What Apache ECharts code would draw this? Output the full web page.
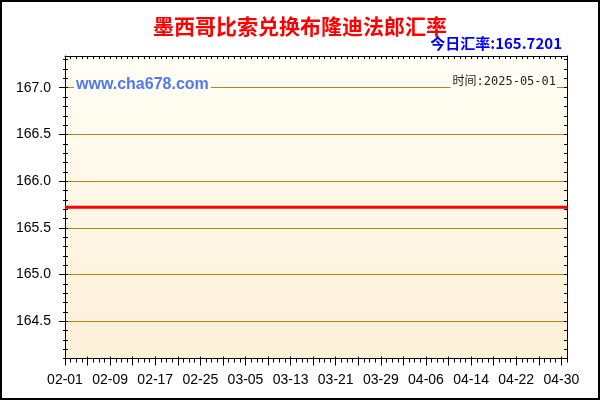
<!DOCTYPE html>
<html>
<head>
<meta charset="utf-8">
<script src="https://cdn.jsdelivr.net/npm/echarts@6/dist/echarts.min.js"></script>
<style>
html,body{margin:0;padding:0;background:#fff;}
#c{width:600px;height:400px;}
</style>
</head>
<body>
<div id="c"></div>
<script>
var titleText = '墨西哥比索兑换布隆迪法郎汇率';
var todayText = '今日汇率:165.7201';
var siteText = 'www.cha678.com';
var timeText = '时间:2025-05-01';

var dates = [
 '02-01','02-02','02-03','02-04','02-05','02-06','02-07','02-08','02-09','02-10',
 '02-11','02-12','02-13','02-14','02-15','02-16','02-17','02-18','02-19','02-20',
 '02-21','02-22','02-23','02-24','02-25','02-26','02-27','02-28',
 '03-01','03-02','03-03','03-04','03-05','03-06','03-07','03-08','03-09','03-10',
 '03-11','03-12','03-13','03-14','03-15','03-16','03-17','03-18','03-19','03-20',
 '03-21','03-22','03-23','03-24','03-25','03-26','03-27','03-28','03-29','03-30','03-31',
 '04-01','04-02','04-03','04-04','04-05','04-06','04-07','04-08','04-09','04-10',
 '04-11','04-12','04-13','04-14','04-15','04-16','04-17','04-18','04-19','04-20',
 '04-21','04-22','04-23','04-24','04-25','04-26','04-27','04-28','04-29','04-30',
 '05-01'
];

var rates = [
 165.7201,165.7201,165.7201,165.7201,165.7201,165.7201,165.7201,165.7201,165.7201,165.7201,
 165.7201,165.7201,165.7201,165.7201,165.7201,165.7201,165.7201,165.7201,165.7201,165.7201,
 165.7201,165.7201,165.7201,165.7201,165.7201,165.7201,165.7201,165.7201,
 165.7201,165.7201,165.7201,165.7201,165.7201,165.7201,165.7201,165.7201,165.7201,165.7201,
 165.7201,165.7201,165.7201,165.7201,165.7201,165.7201,165.7201,165.7201,165.7201,165.7201,
 165.7201,165.7201,165.7201,165.7201,165.7201,165.7201,165.7201,165.7201,165.7201,165.7201,165.7201,
 165.7201,165.7201,165.7201,165.7201,165.7201,165.7201,165.7201,165.7201,165.7201,165.7201,
 165.7201,165.7201,165.7201,165.7201,165.7201,165.7201,165.7201,165.7201,165.7201,165.7201,
 165.7201,165.7201,165.7201,165.7201,165.7201,165.7201,165.7201,165.7201,165.7201,165.7201,
 165.7201
];

var yMin = 164.1;
var yMax = 167.34;
var yMajorTicks = [164.5, 165.0, 165.5, 166.0, 166.5, 167.0];
var yMinorTicks = [164.1,164.2,164.3,164.4,164.5,164.6,164.7,164.8,164.9,165.0,
 165.1,165.2,165.3,165.4,165.5,165.6,165.7,165.8,165.9,166.0,
 166.1,166.2,166.3,166.4,166.5,166.6,166.7,166.8,166.9,167.0,
 167.1,167.2,167.3];

var chart = echarts.init(document.getElementById('c'), null, {renderer:'canvas'});
var black = '#000';
var gridColor = '#b8860b';
var lblFont = 'Liberation Sans, Arial, sans-serif';

var option = {
  animation: false,
  backgroundColor: '#ffffff',
  title: {
    text: titleText, left: 'center', top: 11,
    textStyle: {color:'#ff0000', fontSize:21, fontWeight:'bold', fontFamily:'Noto Sans CJK SC, sans-serif'}
  },
  grid: {
    left: 65, right: 33, top: 56, bottom: 41.5, show: true, borderWidth: 0,
    backgroundColor: new echarts.graphic.LinearGradient(0,0,0,1,[
      {offset:0, color:'#fffef4'},{offset:1, color:'#fdf0d8'}
    ])
  },
  xAxis: [
    { type:'category', data:dates, boundaryGap:false, position:'bottom',
      axisLine:{show:true, lineStyle:{color:black, width:1}},
      axisTick:{show:true, interval:3, length:7, inside:false, lineStyle:{color:black}},
      axisLabel:{interval:7, margin:15, color:'#000', fontSize:14, fontFamily:lblFont},
      splitLine:{show:false}
    },
    { type:'category', data:dates, boundaryGap:false, position:'bottom',
      axisLine:{show:false},
      axisTick:{show:true, interval:0, length:4, inside:false, lineStyle:{color:black}},
      axisLabel:{show:false}, splitLine:{show:false}
    },
    { type:'category', data:dates, boundaryGap:false, position:'bottom',
      axisLine:{show:false},
      axisTick:{show:true, interval:3, length:2, inside:true, lineStyle:{color:black}},
      axisLabel:{show:false}, splitLine:{show:false}
    },
    { type:'category', data:dates, boundaryGap:false, position:'top',
      axisLine:{show:true, lineStyle:{color:black, width:1}},
      axisTick:{show:true, interval:0, length:3, inside:true, lineStyle:{color:black}},
      axisLabel:{show:false}, splitLine:{show:false}
    }
  ],
  yAxis: [
    { type:'value', min:yMin, max:yMax, position:'left',
      axisLine:{show:true, lineStyle:{color:black, width:1}},
      axisTick:{show:true, customValues:yMajorTicks, length:6, inside:false, lineStyle:{color:black}},
      axisLabel:{customValues:yMajorTicks, margin:14, color:'#000', fontSize:14, fontFamily:lblFont,
        formatter:function(v){return v.toFixed(1);}},
      splitLine:{show:true, lineStyle:{color:gridColor, width:1}}
    },
    { type:'value', min:yMin, max:yMax, position:'left',
      axisLine:{show:false},
      axisTick:{show:true, customValues:yMinorTicks, length:3, inside:true, lineStyle:{color:black}},
      axisLabel:{show:false}, splitLine:{show:false}
    },
    { type:'value', min:yMin, max:yMax, position:'left',
      axisLine:{show:false},
      axisTick:{show:true, customValues:yMinorTicks, length:2, inside:false, lineStyle:{color:black}},
      axisLabel:{show:false}, splitLine:{show:false}
    },
    { type:'value', min:yMin, max:yMax, position:'right',
      axisLine:{show:true, lineStyle:{color:black, width:1}},
      axisTick:{show:true, customValues:yMinorTicks, length:3, inside:true, lineStyle:{color:black}},
      axisLabel:{show:false}, splitLine:{show:false}
    }
  ],
  series: [
    { type:'line', xAxisIndex:0, yAxisIndex:0, data:rates, showSymbol:false, symbol:'none',
      lineStyle:{color:'#ff0000', width:3}, z:5 }
  ],
  graphic: [
    { type:'rect', shape:{x:1, y:1, width:598, height:398}, style:{fill:null, stroke:'#000', lineWidth:2}, z:100 },
    { type:'text', x:562, y:43, z:50,
      style:{text:todayText, align:'right', verticalAlign:'middle', fill:'#0000ff',
        font:'bold 15px "Noto Sans CJK SC", "Liberation Sans", sans-serif'} },
    { type:'text', x:74, y:85, z:50,
      style:{text:siteText, align:'left', verticalAlign:'middle', fill:'#5078f0',
        font:'bold 16px "Liberation Sans", Arial, sans-serif',
        backgroundColor:'#fffef4', padding:[2,2,2,2]} },
    { type:'text', x:557, y:82, z:50,
      style:{text:timeText, align:'right', verticalAlign:'middle', fill:'#222222',
        font:'12px "DejaVu Sans Mono", "Noto Sans CJK SC", monospace',
        backgroundColor:'#fffef4', padding:[2,1,2,2]} }
  ]
};
chart.setOption(option);
</script>
</body>
</html>
